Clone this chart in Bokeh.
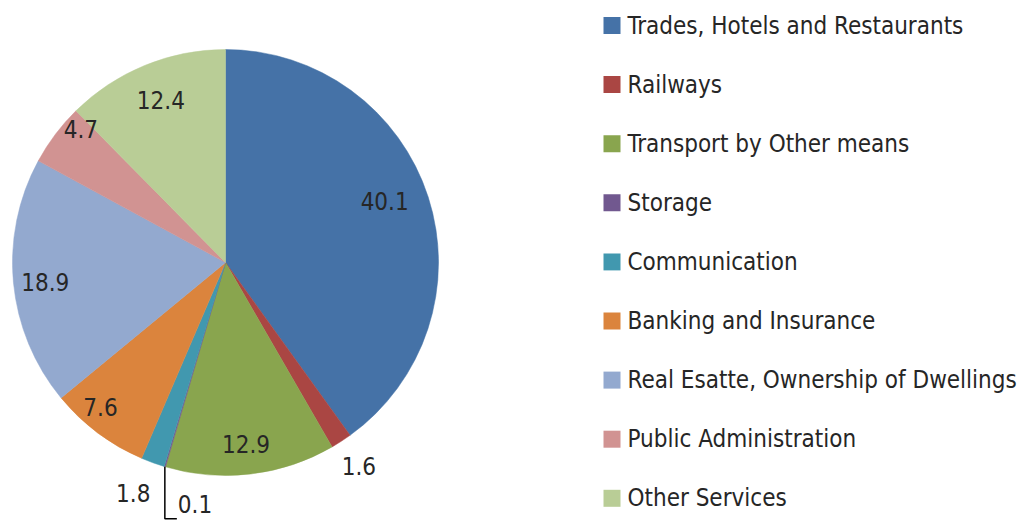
import math
from bokeh.plotting import figure
from bokeh.models import Range1d, ColumnDataSource
from bokeh.core.properties import value
from bokeh.embed import file_html
from bokeh.resources import INLINE

# ---- data ----
categories = ["Trades, Hotels and Restaurants", "Railways", "Transport by Other means",
              "Storage", "Communication", "Banking and Insurance",
              "Real Esatte, Ownership of Dwellings", "Public Administration", "Other Services"]
shares = [40.1, 1.6, 12.9, 0.1, 1.8, 7.6, 18.9, 4.7, 12.4]
labels = ["40.1", "1.6", "12.9", "0.1", "1.8", "7.6", "18.9", "4.7", "12.4"]
colors = ["#4572A7", "#AA4643", "#89A54E", "#71588F", "#4198AF",
          "#DB843D", "#93A9CF", "#D19392", "#B9CD96"]

# ---- layout ----
W, H = 1023, 521
CX, CY, R = 225, 521 - 262, 213
label_rf = [0.80, 1.17, 0.85, None, 1.2, 0.9, 0.85, 0.92, 0.8]
label_nudge = [(-3, 9), (-2, 6), (-1, -2), (0, 0), (-5, 10), (-10, 9), (0, -2), (12, 16), (0, 5)]
FONT = "DejaVu Sans Condensed"
FS = "24px"
TXT = "#262626"

p = figure(width=W, height=H, output_backend="svg", toolbar_location=None,
           x_range=Range1d(0, W), y_range=Range1d(0, H), min_border=0,
           outline_line_color=None)
p.axis.visible = False
p.grid.visible = False

total = sum(shares)
starts, ends, mids = [], [], []
cum = 0.0
for v in shares:
    a0 = math.pi / 2 - 2 * math.pi * cum / total
    a1 = math.pi / 2 - 2 * math.pi * (cum + v) / total
    starts.append(a0); ends.append(a1); mids.append((a0 + a1) / 2)
    cum += v

src = ColumnDataSource(dict(start=starts, end=ends, color=colors))
p.wedge(x=CX, y=CY, radius=R, start_angle="start", end_angle="end", direction="clock",
        fill_color="color", line_color="color", line_width=0.5, source=src)

# data labels
lx, ly, lt = [], [], []
for i, m in enumerate(mids):
    if label_rf[i] is None:
        continue
    r = R * label_rf[i]
    lx.append(CX + r * math.cos(m) + label_nudge[i][0])
    ly.append(CY + r * math.sin(m) + label_nudge[i][1])
    lt.append(labels[i])
p.text(x=lx, y=ly, text=lt, text_align="center", text_baseline="middle",
       text_font=value(FONT), text_font_size=FS, text_color=TXT)

# leader line for the tiny slice
i = shares.index(0.1)
ex = CX + R * math.cos(mids[i])
ey = CY + R * math.sin(mids[i])
p.line(x=[ex, ex, ex + 12], y=[ey, ey - 52, ey - 52], line_color="black", line_width=1.5)
p.text(x=[ex + 13], y=[ey - 37], text=[labels[i]], text_align="left", text_baseline="middle",
       text_font=value(FONT), text_font_size=FS, text_color=TXT)

# legend
ROW0, STEP = 521 - 25, 59.1
ys = [ROW0 - k * STEP for k in range(len(categories))]
p.rect(x=[611.5] * len(categories), y=ys, width=17, height=17, fill_color=colors, line_color=None)
p.text(x=[627] * len(categories), y=ys, text=categories, text_align="left", text_baseline="middle",
       text_font=value(FONT), text_font_size=FS, text_color=TXT)

open("out.html", "w").write(file_html(p, INLINE))
